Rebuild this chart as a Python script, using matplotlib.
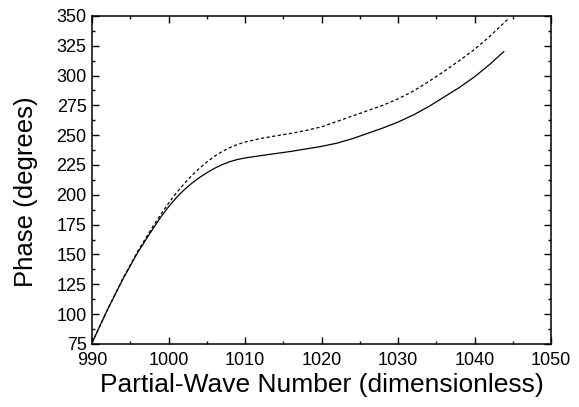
import matplotlib
matplotlib.use('Agg')
import matplotlib.pyplot as plt
from matplotlib.ticker import MultipleLocator

plt.rcParams['font.family'] = ['Liberation Sans', 'DejaVu Sans']

# Partial-wave number (x) and phase in degrees
x_solid = [990, 992, 994, 996, 998, 999, 1000, 1001, 1002, 1003, 1004, 1005, 1006,
           1007, 1008, 1009, 1010, 1012, 1014, 1016, 1018, 1020, 1022, 1024, 1026,
           1028, 1030, 1032, 1034, 1036, 1038, 1040, 1042, 1043.8]
phase_solid = [76, 103.5, 129, 152, 172, 181.5, 190, 197.5, 204, 209.5, 214.3, 218.5,
               222.2, 225.3, 227.8, 229.6, 230.9, 232.8, 234.6, 236.4, 238.5, 240.6,
               243.3, 247, 251.5, 256, 261, 267, 274, 282, 290, 299, 309.5, 320]

x_dashed = [990, 992, 994, 996, 998, 999, 1000, 1001, 1002, 1003, 1004, 1005, 1006,
            1007, 1008, 1009, 1010, 1012, 1014, 1016, 1018, 1020, 1022, 1024, 1026,
            1028, 1030, 1032, 1034, 1036, 1038, 1040, 1042, 1044.3]
phase_dashed = [76, 103.5, 129.5, 153, 174, 183.7, 193, 201.5, 209, 216, 222, 227.5,
                232.3, 236.3, 239.5, 242.2, 244.2, 247.2, 249.4, 251.5, 254, 257,
                261.5, 266, 270.5, 275, 280.5, 287, 295, 303.5, 312.5, 322, 333, 347]

fig = plt.figure(figsize=(5.79, 4.07), dpi=100)
ax = fig.add_axes([0.159, 0.155, 0.793, 0.806])

ax.plot(x_solid, phase_solid, color='black', linewidth=0.9)
ax.plot(x_dashed, phase_dashed, color='black', linewidth=0.9, linestyle=(0, (2.5, 2)))

ax.set_xlim(990, 1050)
ax.set_ylim(75, 350)
ax.xaxis.set_major_locator(MultipleLocator(10))
ax.xaxis.set_minor_locator(MultipleLocator(5))
ax.yaxis.set_major_locator(MultipleLocator(25))
ax.yaxis.set_minor_locator(MultipleLocator(12.5))

ax.tick_params(which='both', direction='in', top=True, right=True, labelsize=13,
               width=1)
ax.tick_params(which='major', length=5)
ax.tick_params(axis='x', which='major', pad=6)
ax.tick_params(axis='y', which='major', pad=4)
ax.tick_params(which='minor', length=2.5)
for s in ax.spines.values():
    s.set_linewidth(1.1)

ax.set_xlabel('Partial-Wave Number (dimensionless)', fontsize=19, labelpad=2.5)
ax.set_ylabel('Phase (degrees)', fontsize=18.5)
ax.yaxis.set_label_coords(-0.118, 0.463)

fig.savefig('out.png', dpi=100)
